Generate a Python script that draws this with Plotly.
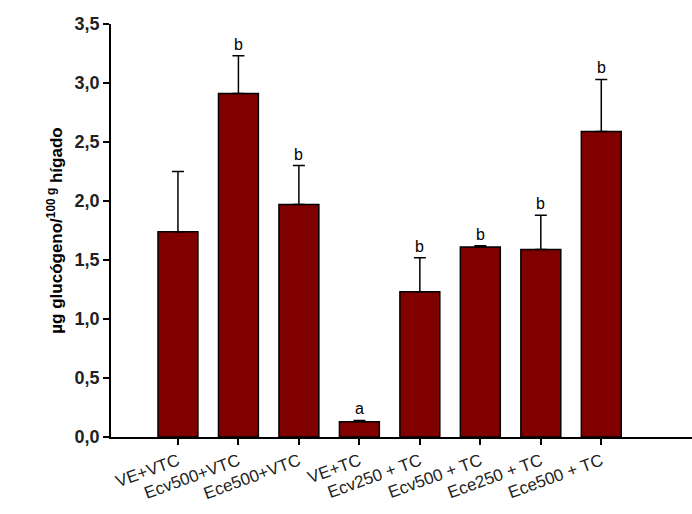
import plotly.graph_objects as go

groups = ["VE+VTC", "Ecv500+VTC", "Ece500+VTC", "VE+TC",
          "Ecv250 + TC", "Ecv500 + TC", "Ece250 + TC", "Ece500 + TC"]
means = [1.74, 2.91, 1.97, 0.13, 1.23, 1.61, 1.59, 2.59]
sem = [0.51, 0.32, 0.33, 0.01, 0.29, 0.01, 0.29, 0.44]
letters = ["", "b", "b", "a", "b", "b", "b", "b"]
y_ticks = [0, 0.5, 1.0, 1.5, 2.0, 2.5, 3.0, 3.5]

xpos = list(range(len(groups)))

fig = go.Figure()
fig.add_trace(go.Bar(
    x=xpos, y=means, width=0.66,
    marker=dict(color="#800000", line=dict(color="black", width=1.5)),
    error_y=dict(type="data", array=sem, arrayminus=[0] * len(sem),
                 symmetric=False, color="black", thickness=1.5, width=6),
    showlegend=False,
))

for x, m, s, t in zip(xpos, means, sem, letters):
    if t:
        fig.add_annotation(x=x, y=m + s, text=t, showarrow=False,
                           yanchor="bottom", yshift=1,
                           font=dict(family="Liberation Sans", size=16, color="black"))

fig.update_layout(
    width=692, height=514,
    margin=dict(l=111, r=0, t=24, b=77),
    plot_bgcolor="white", paper_bgcolor="white",
    separators=",.",
    bargap=0.34,
    font=dict(family="Liberation Sans", color="black"),
)
fig.update_xaxes(
    range=[-1.107, 8.5], tickmode="array", tickvals=xpos, ticktext=groups,
    tickangle=-20, ticks="outside", ticklen=6, tickwidth=1.5, tickcolor="black",
    showline=True, linecolor="black", linewidth=1.5, showgrid=False, zeroline=False,
    tickfont=dict(family="Liberation Sans", size=17, color="#222"),
)
fig.update_yaxes(
    range=[0, 3.5], tickmode="array", tickvals=y_ticks,
    ticktext=[f"<b>{v:.1f}</b>".replace(".", ",") for v in y_ticks],
    ticks="outside", ticklen=6, tickwidth=1.5, tickcolor="black",
    showline=True, linecolor="black", linewidth=1.5, showgrid=False, zeroline=False,
    tickfont=dict(family="Liberation Sans", size=18, color="#222"),
    title=dict(text="<b>µg glucógeno/<sup>100 g</sup> hígado</b>",
               font=dict(family="Liberation Sans", size=17, color="black"),
               standoff=8),
)

fig.write_html("out.html")
